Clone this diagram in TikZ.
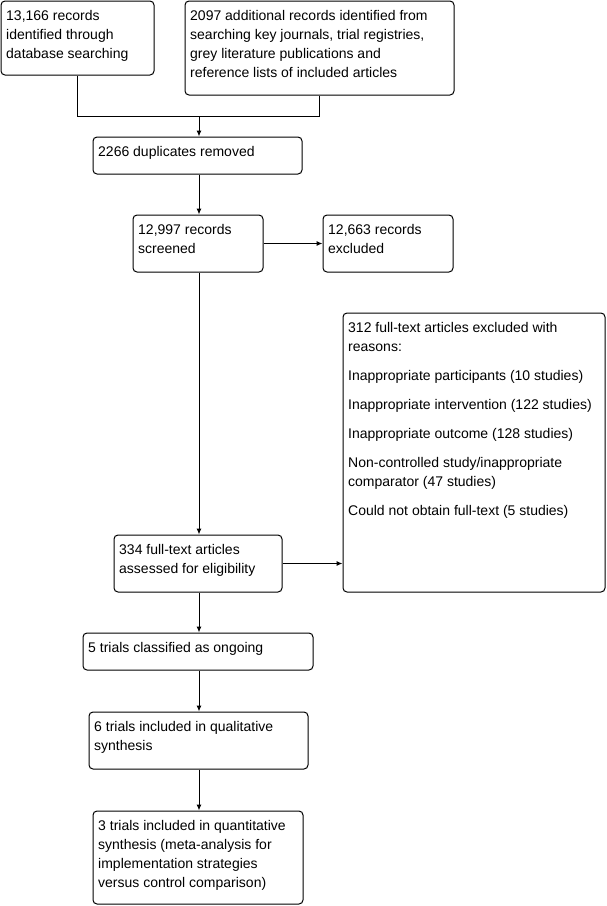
\documentclass[tikz,border=0pt]{standalone}
\usepackage{fontspec}
\setmainfont{Liberation Sans}
\usetikzlibrary{arrows.meta}
\tikzset{
  flow/.style={draw=black, line width=1pt, rounded corners=4pt, inner sep=0pt, fill=white},
  txt/.style={inner sep=0pt, anchor=base west},
  arr/.style={draw=black, line width=1pt, -{Latex[length=6pt,width=5pt]}},
  ln/.style={draw=black, line width=1pt}
}
\newcommand\flowbox[6]{%
  \node[flow, minimum width={#4-#2}, minimum height={#5-#3}] (#1) at ({(#2+#4)/2},{-(#3+#5)/2}) {};
  \node[txt] (#1t) at ([xshift=5.5pt,yshift=-19.5pt]#1.north west)
    {\parbox[t]{330pt}{\fontsize{14}{19}\selectfont\raggedright #6}};
}
\begin{document}
\begin{tikzpicture}[x=1pt,y=1pt]
\useasboundingbox (0,0) rectangle (606,-906);
\flowbox{a}{1}{1}{154}{75}{13,166 records\\identified through\\database searching}
\flowbox{b}{185}{1}{454}{95}{2097 additional records identified from\\searching key journals, trial registries,\\grey literature publications and\\reference lists of included articles}
\flowbox{c}{93}{137}{302}{174}{2266 duplicates removed}
\flowbox{d}{133}{215}{263}{272}{12,997 records\\screened}
\flowbox{e}{323}{215}{453}{272}{12,663 records\\excluded}
\flowbox{g}{343}{313}{605}{592}{312 full-text articles excluded with\\reasons:\\[10pt]Inappropriate participants (10 studies)\\[10pt]Inappropriate intervention (122 studies)\\[10pt]Inappropriate outcome (128 studies)\\[10pt]Non-controlled study/inappropriate\\comparator (47 studies)\\[10pt]Could not obtain full-text (5 studies)}
\flowbox{f}{114}{535}{282}{592}{334 full-text articles\\assessed for eligibility}
\flowbox{h}{83}{633}{313}{670}{5 trials classified as ongoing}
\flowbox{i}{89}{712}{308}{769}{6 trials included in qualitative\\synthesis}
\flowbox{j}{93}{811}{303}{904}{3 trials included in quantitative\\synthesis (meta-analysis for\\implementation strategies\\versus control comparison)}
\coordinate (m) at (199,-116);
\draw[ln] (a.south) |- (m);
\draw[ln] (b.south) |- (m);
\draw[arr] (m) -- (m |- c.north);
\draw[arr] (c.south -| m) -- (m |- d.north);
\draw[arr] (d.east) -- (e.west);
\draw[arr] (d.south -| m) -- (m |- f.north);
\draw[arr] (f.east) -- (f.east -| g.west);
\draw[arr] (f.south -| m) -- (m |- h.north);
\draw[arr] (h.south -| m) -- (m |- i.north);
\draw[arr] (i.south -| m) -- (m |- j.north);
\end{tikzpicture}
\end{document}
